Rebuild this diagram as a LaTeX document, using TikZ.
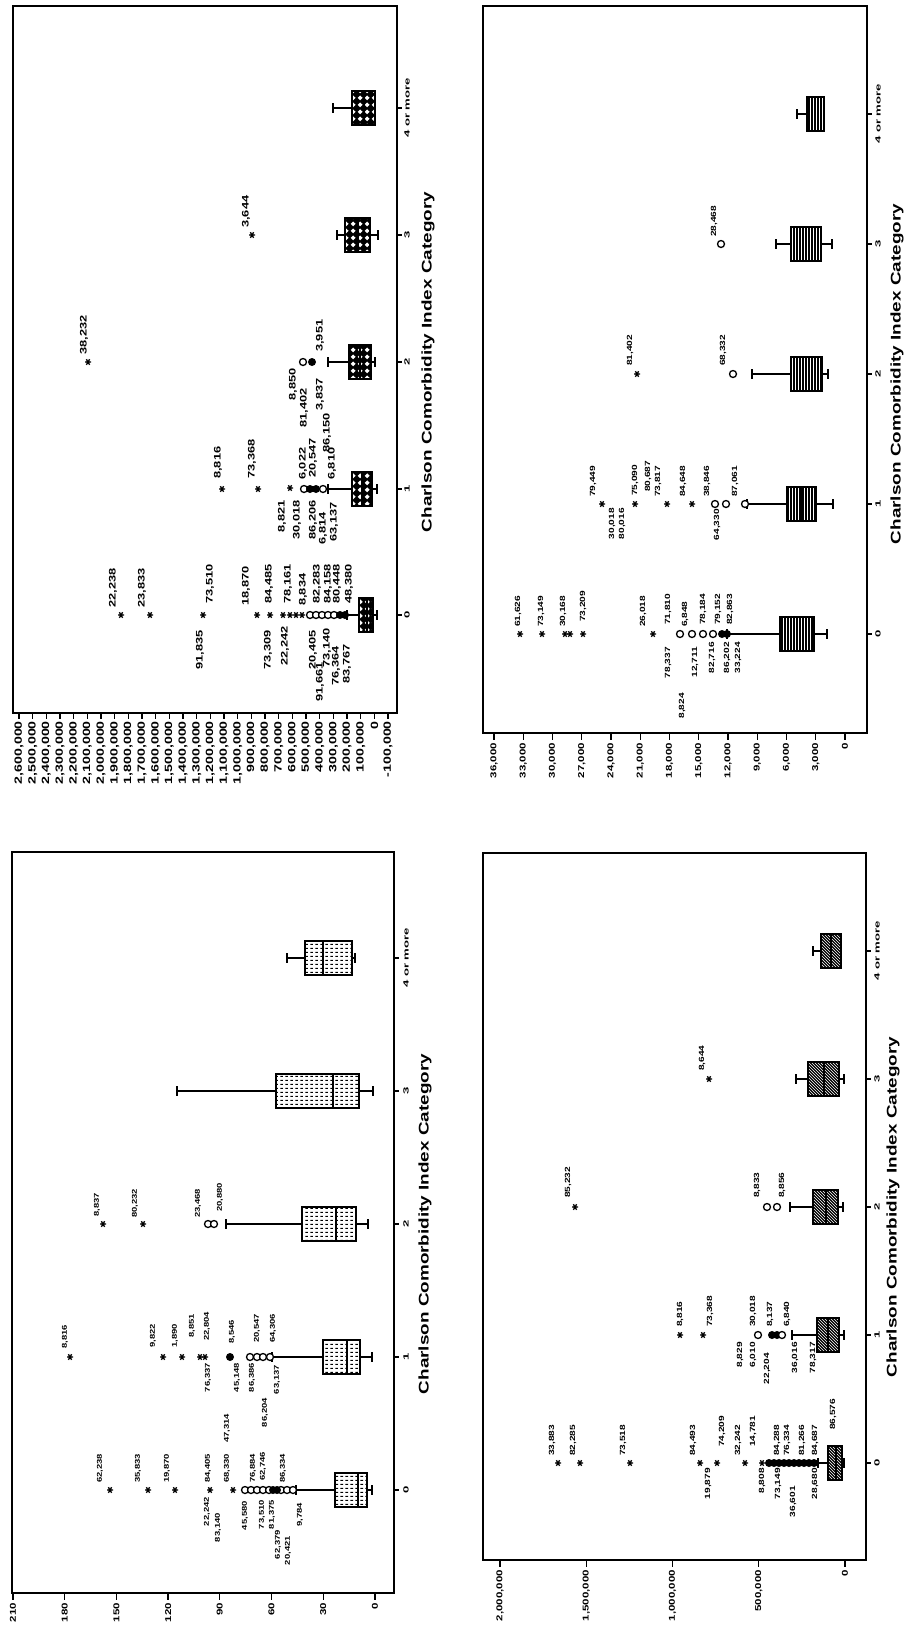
\documentclass[tikz,border=0pt]{standalone}
\usepackage{fontspec}
\setmainfont{Liberation Sans}
\usepackage{graphicx}
\usepackage{tikz}
\usetikzlibrary{patterns}

% white diamonds (top left boxes)
\pgfdeclarepatternformonly{wdiam}{\pgfpointorigin}{\pgfpoint{7pt}{7pt}}{\pgfpoint{7pt}{7pt}}{%
  \pgfpathmoveto{\pgfpoint{3.5pt}{0.8pt}}%
  \pgfpathlineto{\pgfpoint{6.2pt}{3.5pt}}%
  \pgfpathlineto{\pgfpoint{3.5pt}{6.2pt}}%
  \pgfpathlineto{\pgfpoint{0.8pt}{3.5pt}}%
  \pgfpathclose\pgfusepath{fill}}
% short dashes (bottom left boxes)
\pgfdeclarepatternformonly{hdash}{\pgfpointorigin}{\pgfpoint{5pt}{4pt}}{\pgfpoint{5pt}{4pt}}{%
  \pgfpathrectangle{\pgfpoint{0.5pt}{1.5pt}}{\pgfpoint{3pt}{1pt}}\pgfusepath{fill}}

\tikzset{
  frame/.style={line width=1.8pt},
  axisl/.style={line width=2.4pt},
  whisk/.style={line width=2pt},
  boxline/.style={line width=2pt},
  mk/.style={line width=1.3pt},
  olab/.style={rotate=90, inner sep=0pt, font=\fontsize{7.5}{8}\selectfont\bfseries},
  tlab/.style={rotate=90, inner sep=0pt, anchor=east, font=\fontsize{8.5}{9}\selectfont\bfseries},
  clab/.style={rotate=90, inner sep=0pt, font=\fontsize{7.5}{8}\selectfont\bfseries},
  atitle/.style={rotate=90, inner sep=0pt, font=\fontsize{14}{15}\selectfont\bfseries},
  tlfill/.style={preaction={fill=black}, pattern=wdiam, pattern color=white},
  trfill/.style={preaction={fill=black}, pattern=vertical lines, pattern color=white},
  blfill/.style={preaction={fill=white}, pattern=hdash, pattern color=black},
  brfill/.style={preaction={fill=black}, pattern=north west lines, pattern color=white},
}

\newcounter{lbn}
\newcommand{\sx}[1]{\scalebox{1.35}[1]{#1}}
\newcommand{\sy}[1]{\scalebox{1.75}[1]{#1}}
% box plot: cat, upper whisker, q3, median, q1, lower whisker, fill
\newcommand{\bxp}[7]{%
  \draw[whisk] (#2,#1) -- (#3,#1) (#5,#1) -- (#6,#1)
    (#2,#1-5) -- (#2,#1+5) (#6,#1-5) -- (#6,#1+5);
  \fill[#7] (#3,#1-17) rectangle (#5,#1+17);
  \draw[boxline] (#3,#1-17) rectangle (#5,#1+17) (#4,#1-17) -- (#4,#1+17);
}
\newcommand{\xstar}[2]{\draw[mk] (#1-3,#2) -- (#1+3,#2) (#1-1.6,#2-2.8) -- (#1+1.6,#2+2.8) (#1-1.6,#2+2.8) -- (#1+1.6,#2-2.8);}
\newcommand{\ocirc}[2]{\draw[mk, fill=white] (#1,#2) circle (3.5pt);}
\newcommand{\fcirc}[2]{\fill (#1,#2) circle (4pt);}
\newcommand{\labu}[3]{\stepcounter{lbn}\node[olab, anchor=west] (lb\arabic{lbn}) at (#1,#2) {\sx{#3}};}
\newcommand{\labd}[3]{\stepcounter{lbn}\node[olab, anchor=east] (lb\arabic{lbn}) at (#1,#2) {\sx{#3}};}

\begin{document}
\begin{tikzpicture}[x=1pt, y=-1pt]
  \useasboundingbox (0,0) rectangle (909,1634);

  % top left panel
  \begin{scope}[olab/.append style={font=\fontsize{9.5}{10}\selectfont\bfseries},
                tlab/.append style={font=\fontsize{10.5}{11}\selectfont\bfseries}]
  \draw[frame] (13,6) rectangle (397,713);
  \draw[axisl] (13,713) -- (397,713) -- (397,6);
  \foreach \v [count=\i from 0] in {{2,600,000},{2,500,000},{2,400,000},{2,300,000},{2,200,000},
      {2,100,000},{2,000,000},{1,900,000},{1,800,000},{1,700,000},{1,600,000},{1,500,000},
      {1,400,000},{1,300,000},{1,200,000},{1,100,000},{1,000,000},{900,000},{800,000},{700,000},
      {600,000},{500,000},{400,000},{300,000},{200,000},{100,000},0,{-100,000}} {
    \draw[mk] ({19+\i*13.67},713) -- ({19+\i*13.67},719);
    \node[tlab] (tla\i) at ({19+\i*13.67},721) {\sx{\v}};
  }
  \foreach \c/\t [count=\i] in {615/0, 489/1, 362/2, 235/3, 108/{4 or more}} {
    \draw[mk] (397,\c) -- (402,\c);
    \node[clab] (tlc\i) at (407,\c) {\sy{\t}};
  }
  \node[atitle] (tltitle) at (428,362) {\sx{Charlson Comorbidity Index Category}};

  % boxes
  \bxp{615}{347}{359}{367}{373}{377}{tlfill}
  \bxp{489}{328}{352}{362}{372}{377}{tlfill}
  \bxp{362}{328}{349}{360}{371}{375}{tlfill}
  \bxp{235}{337}{345}{358}{370}{378}{tlfill}
  \bxp{108}{333}{352}{364}{375}{375}{tlfill}

  % outliers
  \foreach \p in {121,150,203,257,270,283,290,296,302} {\xstar{\p}{615}}
  \foreach \p in {310,316,322,328,334} {\ocirc{\p}{615}}
  \fcirc{340}{615} \fcirc{345}{615}
  \labu{113}{608}{22,238} \labu{142}{608}{23,833}
  \labd{200}{630}{91,835} \labu{210}{604}{73,510}
  \labu{246}{606}{18,870} \labd{268}{630}{73,309}
  \labu{269}{604}{84,485} \labd{285}{626}{22,242}
  \labu{288}{604}{78,161} \labu{303}{606}{8,834}
  \labd{313}{630}{20,405} \labu{317}{604}{82,283}
  \labd{320}{662}{91,661} \labd{327}{628}{73,140}
  \labu{328}{604}{84,158} \labd{336}{646}{76,364}
  \labu{337}{604}{80,448} \labd{347}{644}{83,767}
  \labu{349}{604}{48,380}

  \xstar{222}{489} \xstar{258}{489} \xstar{290}{488}
  \ocirc{304}{489} \fcirc{310}{489} \fcirc{316}{489} \ocirc{323}{489}
  \labu{218}{479}{8,816} \labu{252}{479}{73,368}
  \labd{282}{500}{8,821} \labd{297}{500}{30,018}
  \labu{303}{480}{6,022} \labd{313}{500}{86,206}
  \labu{313}{478}{20,547} \labd{323}{512}{6,814}
  \labu{332}{480}{6,810} \labd{334}{502}{63,137}

  \xstar{88}{362} \labu{84}{355}{38,232}
  \ocirc{303}{362} \fcirc{312}{362}
  \labd{293}{368}{8,850} \labd{304}{388}{81,402}
  \labd{320}{378}{3,837} \labd{327}{413}{86,150}
  \labu{320}{352}{3,951}

  \xstar{252}{235} \labu{246}{228}{3,644}
  \end{scope}

  % top right panel
  \draw[frame] (483,6) rectangle (867,733);
  \draw[axisl] (483,733) -- (867,733) -- (867,6);
  \foreach \v [count=\i from 0] in {{36,000},{33,000},{30,000},{27,000},{24,000},{21,000},
      {18,000},{15,000},{12,000},{9,000},{6,000},{3,000},0} {
    \draw[mk] ({494+\i*29.25},733) -- ({494+\i*29.25},740);
    \node[tlab] (tra\i) at ({494+\i*29.25},743) {\sx{\v}};
  }
  \foreach \c/\t [count=\i] in {634/0, 504/1, 374/2, 244/3, 114/{4 or more}} {
    \draw[mk] (867,\c) -- (872,\c);
    \node[clab] (trc\i) at (878,\c) {\sy{\t}};
  }
  \node[atitle] (trtitle) at (897,374) {\sx{Charlson Comorbidity Index Category}};

  % boxes
  \bxp{634}{727}{780}{797}{814}{827}{trfill}
  \bxp{504}{747}{787}{801}{816}{833}{trfill}
  \bxp{374}{752}{791}{806}{822}{828}{trfill}
  \bxp{244}{776}{791}{806}{821}{832}{trfill}
  \bxp{114}{797}{807}{815}{824}{824}{trfill}

  % outliers
  \foreach \p in {520,542,565,570,583,653} {\xstar{\p}{634}}
  \foreach \p in {680,692,703,713} {\ocirc{\p}{634}}
  \fcirc{722}{634} \fcirc{727}{634}
  \labu{518}{627}{61,626} \labu{541}{627}{73,149}
  \labu{563}{627}{30,168} \labu{583}{622}{73,209}
  \labu{643}{627}{26,018} \labu{668}{625}{71,810}
  \labd{668}{647}{78,337} \labd{682}{693}{8,824}
  \labu{685}{627}{6,848} \labd{695}{647}{12,711}
  \labu{703}{625}{78,184} \labd{712}{642}{82,716}
  \labu{718}{625}{79,152} \labd{727}{642}{86,202}
  \labu{730}{625}{82,863} \labd{738}{642}{33,224}

  \foreach \p in {602,635,667,692} {\xstar{\p}{504}}
  \foreach \p in {715,726,745} {\ocirc{\p}{504}}
  \labu{593}{497}{79,449} \labd{612}{508}{30,018}
  \labd{622}{508}{80,016} \labu{635}{496}{75,090}
  \labu{648}{492}{80,687} \labu{658}{497}{73,817}
  \labu{683}{497}{84,648} \labu{707}{497}{38,846}
  \labd{717}{509}{64,330} \labu{735}{497}{87,061}

  \xstar{637}{374} \labu{630}{366}{81,402}
  \ocirc{733}{374} \labu{723}{366}{68,332}
  \ocirc{721}{244} \labu{714}{237}{28,468}

  % bottom left panel
  \begin{scope}[olab/.append style={font=\fontsize{7}{7.5}\selectfont\bfseries}]
  \draw[frame] (12,852) rectangle (394,1593);
  \draw[axisl] (12,1593) -- (394,1593) -- (394,852);
  \foreach \v [count=\i from 0] in {210,180,150,120,90,60,30,0} {
    \draw[mk] ({13+\i*51.7},1593) -- ({13+\i*51.7},1600);
    \node[tlab] (bla\i) at ({13+\i*51.7},1603) {\sx{\v}};
  }
  \foreach \c/\t [count=\i] in {1490/0, 1357/1, 1224/2, 1091/3, 958/{4 or more}} {
    \draw[mk] (394,\c) -- (399,\c);
    \node[clab] (blc\i) at (406,\c) {\sy{\t}};
  }
  \node[atitle] (bltitle) at (425,1224) {\sx{Charlson Comorbidity Index Category}};

  % boxes
  \bxp{1490}{296}{335}{358}{367}{372}{blfill}
  \bxp{1357}{272}{323}{347}{360}{372}{blfill}
  \bxp{1224}{226}{302}{336}{356}{368}{blfill}
  \bxp{1091}{177}{276}{333}{359}{373}{blfill}
  \bxp{958}{287}{305}{323}{352}{355}{blfill}

  % outliers
  \foreach \p in {110,148,175,210,233} {\xstar{\p}{1490}}
  \foreach \p in {245,251,257,263,269,281,287,293} {\ocirc{\p}{1490}}
  \fcirc{273}{1490} \fcirc{277}{1490}
  \labu{100}{1483}{62,238} \labu{138}{1483}{35,833}
  \labu{167}{1483}{19,870} \labd{207}{1497}{22,242}
  \labu{208}{1483}{84,405} \labd{218}{1513}{83,140}
  \labu{227}{1483}{68,330} \labu{227}{1443}{47,314}
  \labd{245}{1501}{45,580} \labu{253}{1483}{76,884}
  \labd{262}{1500}{73,510} \labu{263}{1481}{62,746}
  \labd{272}{1500}{81,375} \labd{278}{1530}{62,379}
  \labu{283}{1483}{86,334} \labd{288}{1536}{20,421}
  \labd{300}{1503}{9,784}

  \foreach \p in {70,163,182,200,205} {\xstar{\p}{1357}}
  \fcirc{230}{1357}
  \foreach \p in {250,257,263,270} {\ocirc{\p}{1357}}
  \labu{65}{1349}{8,816} \labu{153}{1348}{9,822}
  \labu{175}{1348}{1,890} \labu{192}{1338}{8,851}
  \labu{207}{1341}{22,804} \labd{208}{1363}{76,337}
  \labu{232}{1344}{8,546} \labd{237}{1363}{45,148}
  \labd{252}{1363}{86,386} \labu{257}{1343}{20,547}
  \labd{265}{1398}{86,204} \labu{273}{1343}{64,306}
  \labd{277}{1365}{63,137}

  \xstar{103}{1224} \xstar{143}{1224}
  \ocirc{208}{1224} \ocirc{214}{1224}
  \labu{97}{1217}{8,837} \labu{135}{1218}{80,232}
  \labu{198}{1218}{23,468} \labu{220}{1212}{20,880}
  \end{scope}

  % bottom right panel
  \draw[frame] (483,853) rectangle (866,1560);
  \draw[axisl] (483,1560) -- (866,1560) -- (866,853);
  \foreach \v [count=\i from 0] in {{2,000,000},{1,500,000},{1,000,000},{500,000},0} {
    \draw[mk] ({500+\i*86.25},1560) -- ({500+\i*86.25},1567);
    \node[tlab] (bra\i) at ({500+\i*86.25},1570) {\sx{\v}};
  }
  \foreach \c/\t [count=\i] in {1463/0, 1335/1, 1207/2, 1079/3, 951/{4 or more}} {
    \draw[mk] (866,\c) -- (871,\c);
    \node[clab] (brc\i) at (877,\c) {\sy{\t}};
  }
  \node[atitle] (brtitle) at (893,1207) {\sx{Charlson Comorbidity Index Category}};

  % boxes
  \bxp{1463}{818}{828}{836}{842}{844}{brfill}
  \bxp{1335}{792}{817}{828}{839}{844}{brfill}
  \bxp{1207}{790}{813}{826}{838}{843}{brfill}
  \bxp{1079}{796}{808}{824}{839}{844}{brfill}
  \bxp{951}{813}{821}{831}{841}{841}{brfill}

  % outliers
  \foreach \p in {558,580,630,700,717,745,762} {\xstar{\p}{1463}}
  \foreach \p in {769,774,779,784,789,794,799,804,809,814} {\fcirc{\p}{1463}}
  \labu{552}{1456}{33,883} \labu{573}{1456}{82,285}
  \labu{623}{1456}{73,518} \labu{693}{1456}{84,493}
  \labd{708}{1468}{19,879} \labu{722}{1447}{74,209}
  \labu{738}{1456}{32,242} \labu{753}{1447}{14,781}
  \labd{762}{1468}{8,808} \labu{777}{1456}{84,288}
  \labd{778}{1468}{73,149} \labu{787}{1456}{76,334}
  \labd{793}{1486}{36,601} \labu{802}{1456}{81,266}
  \labd{815}{1468}{28,680} \labu{815}{1456}{84,687}
  \labu{833}{1430}{86,576}

  \xstar{680}{1335} \xstar{703}{1335}
  \ocirc{758}{1335} \fcirc{772}{1335} \fcirc{777}{1335} \ocirc{782}{1335}
  \labu{680}{1327}{8,816} \labu{710}{1327}{73,368}
  \labd{740}{1342}{8,829} \labu{753}{1327}{30,018}
  \labd{753}{1342}{6,010} \labd{767}{1353}{22,204}
  \labu{770}{1327}{8,137} \labu{787}{1327}{6,840}
  \labd{795}{1342}{36,016} \labd{813}{1342}{78,317}

  \xstar{575}{1207} \labu{568}{1198}{85,232}
  \ocirc{767}{1207} \ocirc{777}{1207}
  \labu{757}{1198}{8,833} \labu{782}{1198}{8,856}
  \xstar{709}{1079} \labu{702}{1071}{8,644}

\end{tikzpicture}
\end{document}
